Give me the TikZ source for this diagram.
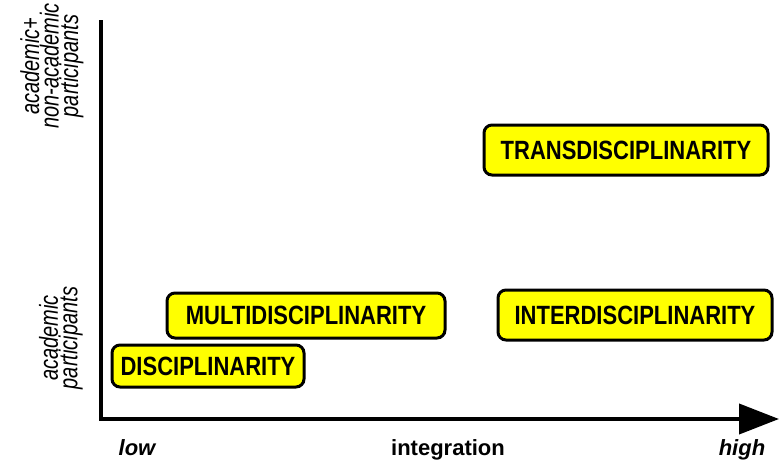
\documentclass[tikz,border=0pt]{standalone}
\usepackage{fontspec}
\setmainfont{Liberation Sans}
\usetikzlibrary{arrows.meta}
\definecolor{boxyellow}{HTML}{FFFF00}
\tikzset{
  discbox/.style={draw=black, line width=3pt, fill=boxyellow, rounded corners=8pt,
    inner sep=0pt, font=\fontsize{22}{24}\selectfont\bfseries},
  axisline/.style={line width=4pt, line join=miter, -{Triangle[length=40pt,width=30pt]}},
  ylab/.style={rotate=90, align=center, font=\fontsize{20}{19.5}\selectfont\itshape},
  xlab/.style={font=\fontsize{22}{24}\selectfont\bfseries, anchor=base}
}
\newcommand{\talltxt}[1]{\scalebox{1}[1.2]{#1}}
\newcommand{\thicktxt}[1]{\scalebox{1}[1.3]{#1}}
\begin{document}
\begin{tikzpicture}[x=1pt,y=-1pt]
\useasboundingbox (0,0) rectangle (780,463);
\fill[white] (0,0) rectangle (780,463);
\coordinate (ytop) at (101,20);
\coordinate (tip) at (779,419);
\draw[axisline] (ytop) |- (tip);

\node[discbox, minimum width=284pt, minimum height=50pt] (trans) at (626,150) {\talltxt{TRANSDISCIPLINARITY}};
\node[discbox, minimum width=274pt, minimum height=50pt] (inter) at (635,315) {\talltxt{INTERDISCIPLINARITY}};
\node[discbox, minimum width=278pt, minimum height=45pt] (multi) at (306,315.5) {\talltxt{MULTIDISCIPLINARITY}};
\node[discbox, minimum width=192pt, minimum height=42pt] (disc) at (208,366) {\talltxt{DISCIPLINARITY}};

\node[ylab] (ytoplab) at (52,66) {\thicktxt{academic+}\\\thicktxt{non-academic}\\\thicktxt{participants}};
\node[ylab] (ybotlab) at (61,338) {\thicktxt{academic}\\\thicktxt{participants}};

\node[xlab, font=\fontsize{22}{24}\selectfont\bfseries\itshape] (low) at (137,455) {low};
\node[xlab] (integ) at (448,455) {integration};
\node[xlab, font=\fontsize{22}{24}\selectfont\bfseries\itshape] (high) at (742,455) {high};
\end{tikzpicture}
\end{document}
